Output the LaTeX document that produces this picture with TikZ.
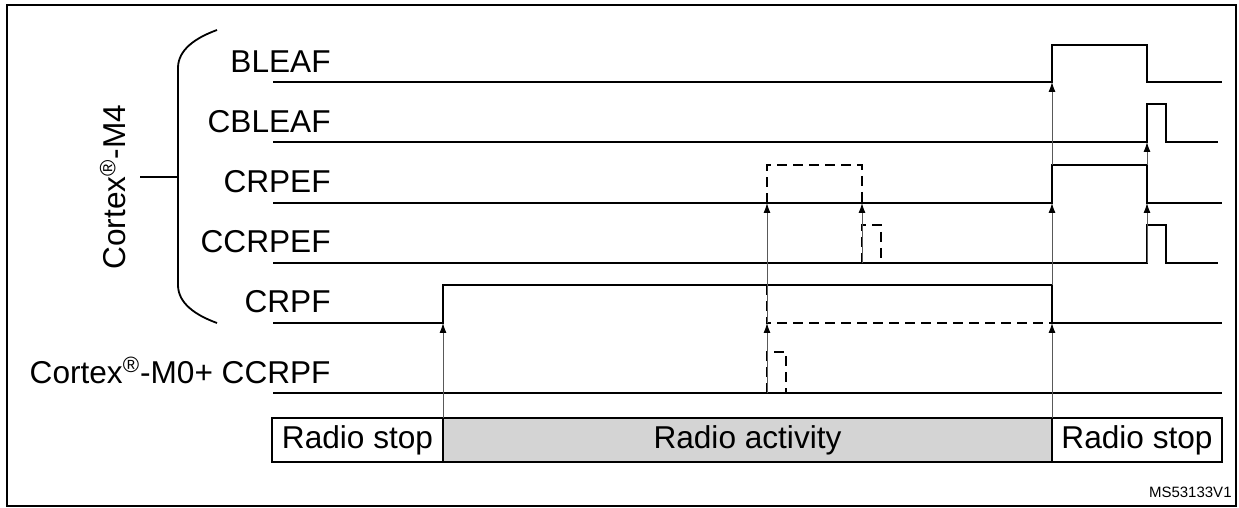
\documentclass[tikz,border=0pt]{standalone}
\usepackage{fontspec}
\setmainfont{Liberation Sans}
\usetikzlibrary{arrows.meta}
\begin{document}
\begin{tikzpicture}[x=0.5pt,y=-0.5pt,
  sig/.style={line width=1.1pt},
  dsig/.style={line width=1.1pt,dash pattern=on 5pt off 3pt},
  trig/.style={draw=black!65,line width=0.5pt,-{Latex[length=5pt,width=3.5pt,fill=black,color=black]}},
  lab/.style={anchor=base east,font=\fontsize{15.8}{17}\selectfont,inner sep=0pt},
  box/.style={draw,line width=0.8pt,minimum height=22pt,font=\fontsize{15.8}{17}\selectfont,inner sep=0pt}]
\useasboundingbox (0,0) rectangle (1239,508);
\draw[line width=0.8pt] (7,5) rectangle (1236,506);
% labels
\node[lab] (lb) at (331,73) {BLEAF};
\node[lab] (lcb) at (331,133) {CBLEAF};
\node[lab] (lcr) at (331,193) {CRPEF};
\node[lab] (lccr) at (331,253) {CCRPEF};
\node[lab] (lcrpf) at (331,313) {CRPF};
\node[lab] (lm0) at (331,383) {Cortex\textsuperscript{\textregistered}-M0+ CCRPF};
\node[rotate=90,font=\fontsize{15.8}{17}\selectfont,inner sep=0pt] (m4) at (113,187) {Cortex\textsuperscript{\textregistered}-M4};
% brace
\draw[line width=0.9pt] (217,30) .. controls (195,38) and (178,50) .. (178,68) -- (178,285) .. controls (178,303) and (195,315) .. (217,323);
\draw[line width=0.9pt] (140,177) -- (178,177);
% signals
\draw[sig] (273,82) -- (1052,82) -- (1052,45) -- (1147,45) -- (1147,82) -- (1222,82);
\draw[sig] (273,142) -- (1147,142) -- (1147,104) -- (1166,104) -- (1166,142) -- (1218,142);
\draw[sig] (273,203) -- (1052,203) -- (1052,165) -- (1147,165) -- (1147,203) -- (1222,203);
\draw[dsig] (767,203) -- (767,165) -- (862,165) -- (862,203);
\draw[sig] (273,263) -- (1147,263) -- (1147,225) -- (1166,225) -- (1166,263) -- (1218,263);
\draw[dsig] (862,263) -- (862,225) -- (881,225) -- (881,263);
\draw[sig] (273,323) -- (443,323) -- (443,285) -- (1052,285) -- (1052,323) -- (1222,323);
\draw[dsig] (767,285) -- (767,323) -- (1052,323);
\draw[sig] (273,393) -- (1222,393);
\draw[dsig] (767,393) -- (767,352) -- (786,352) -- (786,393);
% bottom bar
\node[box,minimum width=171*0.5pt] (rs1) at (357.5,440) {Radio stop};
\node[box,fill=black!17,minimum width=609*0.5pt] (ra) at (747.5,440) {Radio activity};
\node[box,minimum width=170*0.5pt] (rs2) at (1137,440) {Radio stop};
% triggers
\coordinate (t1) at (443,418); \coordinate (t1e) at (443,323);
\draw[trig] (t1) -- (t1e);
\coordinate (t2) at (767,393); \coordinate (t2e) at (767,323);
\draw[trig] (t2) -- (t2e);
\coordinate (t3) at (767,323); \coordinate (t3e) at (767,203);
\draw[trig] (t3) -- (t3e);
\coordinate (t4) at (862,263); \coordinate (t4e) at (862,203);
\draw[trig] (t4) -- (t4e);
\coordinate (t5) at (1052,418); \coordinate (t5e) at (1052,323);
\draw[trig] (t5) -- (t5e);
\coordinate (t6) at (1052,285); \coordinate (t6e) at (1052,203);
\draw[trig] (t6) -- (t6e);
\coordinate (t7) at (1052,165); \coordinate (t7e) at (1052,82);
\draw[trig] (t7) -- (t7e);
\coordinate (t8) at (1147,263); \coordinate (t8e) at (1147,203);
\draw[trig] (t8) -- (t8e);
\coordinate (t9) at (1147,165); \coordinate (t9e) at (1147,142);
\draw[trig] (t9) -- (t9e);
\node[anchor=base east,font=\fontsize{7.5}{9}\selectfont,inner sep=0pt] (ms) at (1232,497) {MS53133V1};
\end{tikzpicture}
\end{document}
